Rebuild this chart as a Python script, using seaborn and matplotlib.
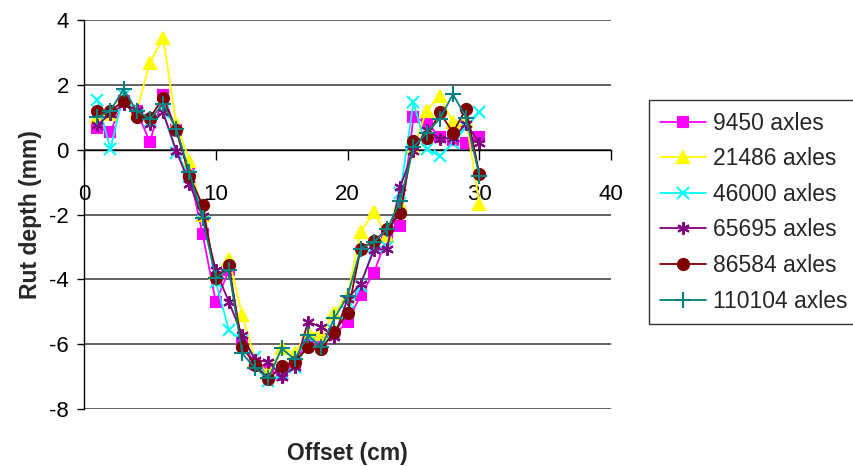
import matplotlib
matplotlib.use("Agg")
import matplotlib.pyplot as plt
import seaborn as sns
import numpy as np

# offsets (cm)
offset = list(range(1, 31))

# rut depth (mm) per loading
axles_9450 = [0.67, 0.56, 1.5, 1.2, 0.23, 1.69, 0.6, -0.75, -2.6, -4.7,
              -3.72, -6.0, -6.6, -6.82, -6.95, -6.6, -5.9, -5.85, -5.7, -5.31,
              -4.49, -3.8, -2.68, -2.34, 1.0, 0.84, 0.38, 0.3, 0.22, 0.38]
axles_21486 = [1.0, 1.1, 1.6, 1.2, 2.69, 3.45, 0.8, -0.34, -2.0, -3.8,
               -3.36, -5.1, -6.5, -6.9, -6.13, -6.28, -5.62, -5.7, -5.04, -4.5,
               -2.54, -1.93, -2.65, -1.67, 0.05, 1.2, 1.66, 0.84, 0.9, -1.66]
axles_46000 = [1.54, 0.03, 1.7, 1.1, 0.9, 1.15, -0.1, -0.8, -1.9, -4.08,
               -5.57, -5.9, -6.4, -7.15, -6.9, -6.7, -6.0, -6.1, -5.6, -5.0,
               -4.2, -3.0, -3.0, -1.34, 1.46, 0.03, -0.2, 0.22, 0.7, 1.15]
axles_65695 = [0.77, 1.1, 1.4, 1.23, 0.8, 1.15, -0.03, -1.05, -2.05, -3.72,
               -4.7, -5.72, -6.5, -6.54, -7.0, -6.7, -5.31, -5.47, -5.77, -4.6,
               -4.13, -3.1, -3.05, -1.14, -0.03, 0.6, 0.34, 0.36, 0.8, 0.22]
axles_86584 = [1.2, 1.2, 1.5, 1.0, 0.98, 1.6, 0.6, -0.8, -1.72, -3.97,
               -3.57, -6.08, -6.65, -7.08, -6.67, -6.54, -6.1, -6.15, -5.62, -5.05,
               -3.05, -2.82, -2.46, -1.96, 0.28, 0.37, 1.15, 0.53, 1.26, -0.74]
axles_110104 = [1.0, 1.2, 1.87, 1.2, 0.95, 1.4, 0.65, -0.7, -2.12, -3.95,
                -3.7, -6.28, -6.75, -7.05, -6.13, -6.47, -5.72, -6.1, -5.2, -4.52,
                -3.05, -2.85, -2.46, -1.57, 0.07, 0.53, 0.95, 1.71, 0.99, -0.8]

labels = ["9450 axles", "21486 axles", "46000 axles",
          "65695 axles", "86584 axles", "110104 axles"]
series = [axles_9450, axles_21486, axles_46000, axles_65695, axles_86584, axles_110104]
colors = ["#FF00FF", "#FFFF00", "#00FFFF", "#800080", "#800000", "#008080"]
markers = ["s", "^", "x", (6, 2, 0), "o", "+"]
msizes = [7, 8.5, 8, 9, 8, 11]

x_ticks = [0, 10, 20, 30, 40]
y_ticks = [-8, -6, -4, -2, 0, 2, 4]

sns.set_style("white")
plt.rcParams['font.family'] = ['Liberation Sans', 'DejaVu Sans']
plt.rcParams['axes.unicode_minus'] = False

fig = plt.figure(figsize=(8.54, 4.66), dpi=100)
ax = fig.add_axes([0.0984, 0.1223, 0.6171, 0.8347])

for vals, lab, c, m, ms in zip(series, labels, colors, markers, msizes):
    sns.lineplot(x=offset, y=vals, ax=ax, color=c, marker=m, markersize=ms,
                 markeredgecolor=c, markeredgewidth=1.5, linewidth=1.3,
                 label=lab, legend=False, zorder=3)

ax.set_xlim(0, 40)
ax.set_ylim(-8, 4)
ax.set_xticks(x_ticks)
ax.set_yticks(y_ticks)
ax.yaxis.grid(True, color="#555555", linewidth=1.3, zorder=0)
ax.xaxis.grid(False)

for s in ["top", "right"]:
    ax.spines[s].set_visible(False)
ax.spines["bottom"].set_position(("data", 0))
ax.spines["bottom"].set_color("black")
ax.spines["left"].set_color("black")
ax.spines["bottom"].set_linewidth(1.0)
ax.spines["left"].set_linewidth(1.0)

ax.tick_params(axis="x", direction="out", length=7, width=1, pad=18,
               labelsize=16, colors="black", bottom=True)
ax.tick_params(axis="y", direction="out", length=5, width=1, pad=6,
               labelsize=16, colors="black", left=True)

ax.set_xlabel("Offset (cm)", fontsize=16.5, fontweight="bold")
ax.set_ylabel("Rut depth (mm)", fontsize=16.5, fontweight="bold")
ax.xaxis.set_label_coords(0.5, -0.085)
ax.yaxis.set_label_coords(-0.08, 0.5)

handles, labs = ax.get_legend_handles_labels()
leg = fig.legend(handles, labs, loc="upper left", bbox_to_anchor=(0.76, 0.785),
                 fontsize=16.5, frameon=True, fancybox=False, handlelength=2.0,
                 handletextpad=0.3, labelspacing=0.55, borderpad=0.5,
                 borderaxespad=0)
leg.get_frame().set_edgecolor("black")
leg.get_frame().set_linewidth(1.0)

fig.savefig("out.png", dpi=100)
